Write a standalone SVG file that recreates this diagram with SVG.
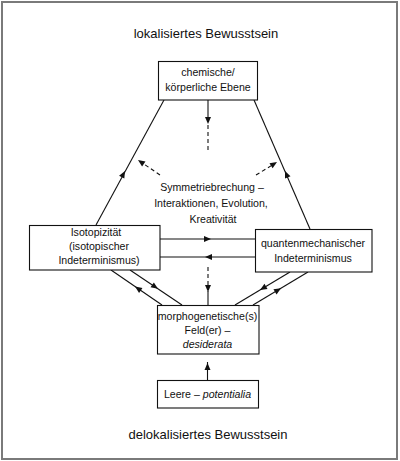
<svg xmlns="http://www.w3.org/2000/svg" xmlns:xlink="http://www.w3.org/1999/xlink" width="400" height="461" viewBox="0 0 400 461">
<style>
text{font-family:"Liberation Sans",Arial,sans-serif;fill:#111;text-anchor:middle}
.t{font-size:13px}
.b{font-size:10.6px}
.box{fill:#fff;stroke:#111;stroke-width:1.1}
.ln{stroke:#111;stroke-width:1.1;fill:none}
.ds{stroke:#111;stroke-width:1.1;fill:none;stroke-dasharray:4,3}
.ah{fill:#111}
</style>
<defs>
<path id="ah" d="M0,0 L-7,-3 L-7,3 Z"/>
</defs>
<rect x="0" y="0" width="400" height="461" fill="#fff"/>
<rect x="2" y="2" width="395" height="457" fill="none" stroke="#7a7a7a" stroke-width="2"/>
<text class="t" x="206" y="38">lokalisiertes Bewusstsein</text>
<text class="t" x="208" y="439">delokalisiertes Bewusstsein</text>
<g id="connectors">
<line class="ln" x1="164" y1="100" x2="96" y2="225"/>
<line class="ln" x1="254" y1="100" x2="310" y2="229"/>
<line class="ln" x1="208" y1="100" x2="208" y2="118"/>
<line class="ds" x1="208" y1="125" x2="208" y2="152"/>
<line class="ds" x1="160" y1="175" x2="141" y2="162"/>
<line class="ds" x1="256" y1="175" x2="274" y2="164"/>
<line class="ln" x1="160" y1="239" x2="255" y2="239"/>
<line class="ln" x1="160" y1="257" x2="255" y2="257"/>
<line class="ds" x1="208" y1="267" x2="208" y2="286"/>
<line class="ln" x1="208" y1="291" x2="208" y2="305"/>
<line class="ln" x1="111" y1="270" x2="162" y2="305"/>
<line class="ln" x1="130" y1="270" x2="182" y2="305"/>
<line class="ln" x1="235" y1="305" x2="290" y2="272"/>
<line class="ln" x1="253" y1="305" x2="308" y2="272"/>
<line class="ln" x1="207.5" y1="380" x2="207.5" y2="362"/>
<use xlink:href="#ah" class="ah" transform="translate(208,124) rotate(90)"/>
<use xlink:href="#ah" class="ah" transform="translate(125,171) rotate(-61.6)"/>
<use xlink:href="#ah" class="ah" transform="translate(285,171) rotate(-113.3)"/>
<use xlink:href="#ah" class="ah" transform="translate(138,160) rotate(-145.7)"/>
<use xlink:href="#ah" class="ah" transform="translate(277,162) rotate(-31.8)"/>
<use xlink:href="#ah" class="ah" transform="translate(211,239)"/>
<use xlink:href="#ah" class="ah" transform="translate(205,257) rotate(180)"/>
<use xlink:href="#ah" class="ah" transform="translate(208,292) rotate(90)"/>
<use xlink:href="#ah" class="ah" transform="translate(135,286.5) rotate(-145.5)"/>
<use xlink:href="#ah" class="ah" transform="translate(158,288.8) rotate(34)"/>
<use xlink:href="#ah" class="ah" transform="translate(260,290) rotate(149)"/>
<use xlink:href="#ah" class="ah" transform="translate(281,288.2) rotate(-31)"/>
<use xlink:href="#ah" class="ah" transform="translate(207.5,363) rotate(-90)"/>
</g>
<g id="center-label">
<text class="b" x="212" y="190.5">Symmetriebrechung –</text>
<text class="b" x="211" y="207">Interaktionen, Evolution,</text>
<text class="b" x="213" y="222.5">Kreativität</text>
</g>
<g id="node-chemisch">
<rect class="box" x="158.5" y="61.5" width="99" height="38.5"/>
<text class="b" x="208" y="76">chemische/</text>
<text class="b" x="208" y="91">körperliche Ebene</text>
</g>
<g id="node-isotopizitaet">
<rect class="box" x="29.5" y="225.5" width="130.5" height="44.5"/>
<text class="b" x="96" y="235.5">Isotopizität</text>
<text class="b" x="99" y="250">(isotopischer</text>
<text class="b" x="99" y="264">Indeterminismus)</text>
</g>
<g id="node-quanten">
<rect class="box" x="255.5" y="229.5" width="116.5" height="42.5"/>
<text class="b" x="313" y="246.5">quantenmechanischer</text>
<text class="b" x="313" y="261.5">Indeterminismus</text>
</g>
<g id="node-morpho">
<rect class="box" x="157.5" y="305.5" width="101.5" height="48.5"/>
<text class="b" x="207.5" y="320">morphogenetische(s)</text>
<text class="b" x="207.5" y="334">Feld(er) –</text>
<text class="b" x="207.5" y="348" font-style="italic">desiderata</text>
</g>
<g id="node-leere">
<rect class="box" x="157.5" y="380.5" width="101" height="27.5"/>
<text class="b" x="207.5" y="397.5">Leere – <tspan font-style="italic">potentialia</tspan></text>
</g>
</svg>
